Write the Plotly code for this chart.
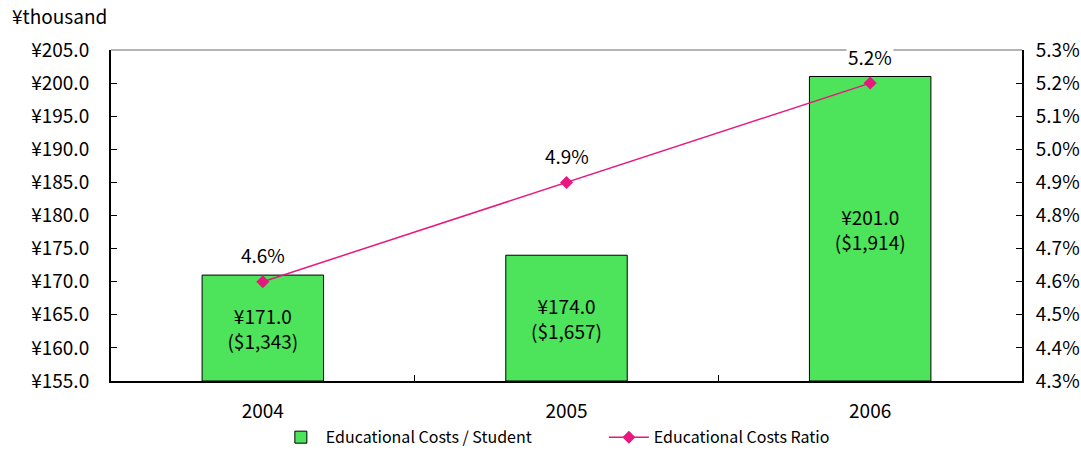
import plotly.graph_objects as go

years = ["2004", "2005", "2006"]
costs = [171.0, 174.0, 201.0]
usd = ["$1,343", "$1,657", "$1,914"]
ratio = [4.6, 4.9, 5.2]

left_min, left_max = 155, 205
left_ticks = [left_min + 5 * i for i in range(11)]
right_ticks = [round(4.3 + 0.1 * i, 1) for i in range(11)]

FONT = "Noto Sans CJK JP"
FS = 19
bar_text = [f"¥{c:.1f}<br>({u})" for c, u in zip(costs, usd)]

fig = go.Figure()
fig.add_trace(go.Bar(
    x=years, y=[c - left_min for c in costs], base=left_min,
    name="Educational Costs / Student",
    marker=dict(color="#4DE35A", line=dict(color="#000000", width=1)),
    width=0.4, text=bar_text, textposition="inside", insidetextanchor="middle",
    textfont=dict(size=FS, color="#000000", family=FONT), textangle=0,
    hoverinfo="skip",
))
fig.add_trace(go.Scatter(
    x=years, y=ratio, name="Educational Costs Ratio", yaxis="y2",
    mode="lines+markers",
    line=dict(color="#E8177F", width=1.5),
    marker=dict(symbol="diamond", size=10, color="#E8177F"),
))

for i, r in enumerate(ratio):
    fig.add_annotation(x=i, y=r, xref="x", yref="y2", text=f"{r:.1f}%",
                       showarrow=False, yshift=27, bgcolor="white",
                       font=dict(size=FS, color="#000000", family=FONT))

fig.add_annotation(x=0, y=1, xref="paper", yref="paper", text="¥thousand",
                   showarrow=False, xanchor="left", yanchor="middle",
                   xshift=-101, yshift=35,
                   font=dict(size=FS, color="#000000", family=FONT))

fig.add_shape(type="line", xref="paper", yref="paper", x0=0, x1=1, y0=1, y1=1,
              line=dict(color="#9A9A9A", width=1.5), layer="below")

fig.update_layout(
    width=1081, height=450,
    margin=dict(l=111, r=59, t=50, b=69, autoexpand=False),
    plot_bgcolor="white", paper_bgcolor="white",
    font=dict(family=FONT, size=FS, color="#000000"),
    showlegend=True,
    legend=dict(orientation="h", x=0.541, y=-0.17, xanchor="center", yanchor="middle",
                font=dict(size=16, family=FONT), tracegroupgap=0, itemwidth=40,
                entrywidth=273),
    xaxis=dict(type="category", showline=True, linecolor="#000000", linewidth=2,
               ticks="inside", tickson="boundaries", ticklen=6, tickcolor="#000000",
               showgrid=False, tickfont=dict(size=FS), range=[-0.5, 2.5],
               ticklabelstandoff=12),
    yaxis=dict(range=[left_min, left_max], tickvals=left_ticks,
               ticktext=[f"¥{v:.1f}" for v in left_ticks],
               showline=True, linecolor="#000000", linewidth=2,
               ticks="inside", ticklen=6, tickcolor="#000000", showgrid=False,
               zeroline=False, ticklabelstandoff=16, tickfont=dict(size=FS)),
    yaxis2=dict(range=[4.3, 5.3], tickvals=right_ticks,
                ticktext=[f"{v:.1f}%" for v in right_ticks],
                overlaying="y", side="right",
                showline=True, linecolor="#000000", linewidth=2,
                ticks="inside", ticklen=6, tickcolor="#000000", showgrid=False,
                zeroline=False, ticklabelstandoff=8, tickfont=dict(size=FS)),
)

fig.write_html("out.html")
